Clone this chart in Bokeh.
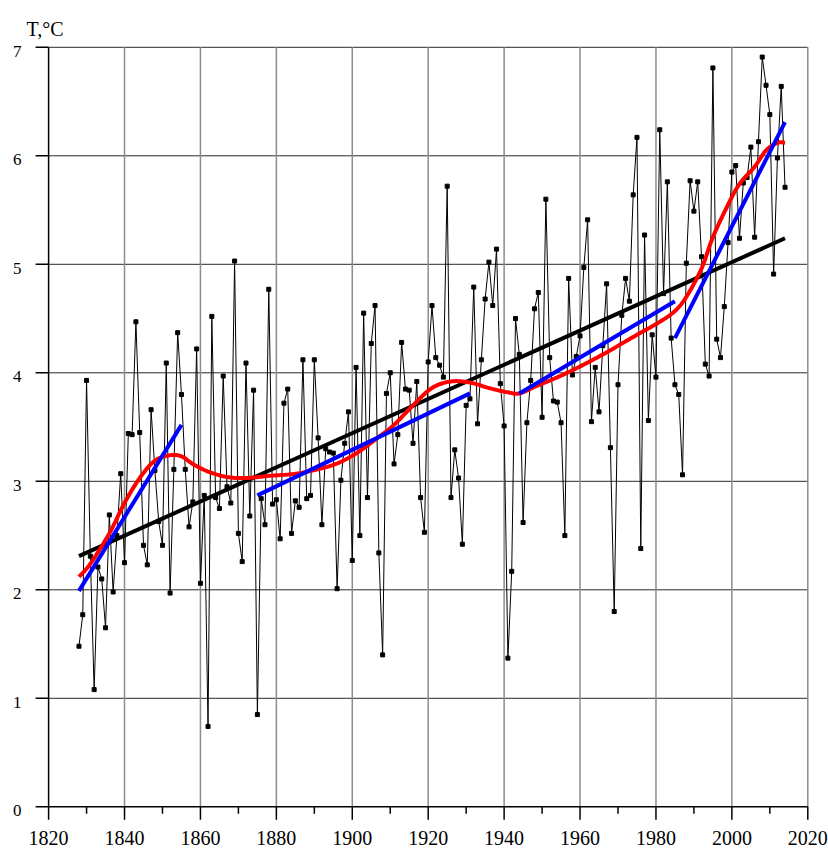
import numpy as np
from bokeh.plotting import figure
from bokeh.models import Range1d
from bokeh.core.properties import value
from bokeh.embed import file_html
from bokeh.resources import INLINE

# ---------------- data ----------------
years = list(range(1828, 2015))
temps = [
    1.48, 1.77,
    3.93, 2.31, 1.08, 2.21, 2.10, 1.65, 2.69, 1.98, 2.50, 3.07,   # 1830s
    2.25, 3.44, 3.43, 4.47, 3.45, 2.41, 2.23, 3.66, 3.10, 2.63,   # 1840s
    2.41, 4.09, 1.97, 3.11, 4.37, 3.80, 3.11, 2.58, 2.81, 4.22,   # 1850s
    2.06, 2.87, 0.74, 4.52, 2.85, 2.75, 3.97, 2.95, 2.80, 5.03,   # 1860s
    2.52, 2.26, 4.09, 2.68, 3.84, 0.85, 2.84, 2.60, 4.77, 2.79,   # 1870s
    2.83, 2.47, 3.72, 3.85, 2.52, 2.82, 2.76, 4.12, 2.84, 2.87,   # 1880s
    4.12, 3.40, 2.60, 3.30, 3.27, 3.26, 2.01, 3.01, 3.35, 3.64,   # 1890s
    2.27, 4.05, 2.50, 4.55, 2.85, 4.27, 4.62, 2.34, 1.40, 3.81,   # 1900s
    4.00, 3.16, 3.43, 4.28, 3.85, 3.84, 3.35, 3.92, 2.85, 2.53,   # 1910s
    4.10, 4.62, 4.14, 4.07, 3.96, 5.72, 2.85, 3.29, 3.03, 2.42,   # 1920s
    3.70, 3.76, 4.79, 3.53, 4.12, 4.68, 5.02, 4.62, 5.14, 3.90,   # 1930s
    3.51, 1.37, 2.17, 4.50, 4.17, 2.62, 3.54, 3.93, 4.59, 4.74,   # 1940s
    3.59, 5.60, 4.14, 3.74, 3.73, 3.54, 2.50, 4.87, 3.98, 4.15,   # 1950s
    4.34, 4.97, 5.41, 3.55, 4.05, 3.64, 4.25, 4.82, 3.31, 1.80,   # 1960s
    3.89, 4.53, 4.87, 4.66, 5.64, 6.17, 2.38, 5.27, 3.56, 4.35,   # 1970s
    3.96, 6.24, 4.73, 5.76, 4.32, 3.89, 3.80, 3.06, 5.01, 5.77,   # 1980s
    5.49, 5.76, 5.07, 4.08, 3.97, 6.81, 4.31, 4.14, 4.61, 5.20,   # 1990s
    5.85, 5.91, 5.24, 5.75, 5.80, 6.08, 5.25, 6.13, 6.91, 6.65,   # 2000s
    6.38, 4.91, 5.98, 6.64, 5.71,                                 # 2010s
]

# linear trend over the whole period (end points)
trend_years = [1828, 2014]
trend_vals = [2.31, 5.24]

# piecewise linear trends (blue)
seg_start_years = [1828, 1875, 1944, 1985]
seg_start_vals = [1.99, 2.87, 3.81, 4.32]
seg_end_years = [1855, 1931, 1985, 2014]
seg_end_vals = [3.52, 3.81, 4.66, 6.31]

# smoothed curve (red), nodes
smooth_years = [1828, 1831, 1836, 1840, 1844, 1848, 1852, 1855, 1858, 1862,
                1867, 1872, 1878, 1885, 1892, 1897, 1902, 1907, 1911, 1916,
                1921, 1926, 1931, 1936, 1941, 1944, 1948, 1956, 1965, 1974,
                1981, 1985, 1988, 1992, 1995, 1999, 2002, 2006, 2009, 2012, 2014]
smooth_vals = [2.12, 2.24, 2.52, 2.80, 3.03, 3.19, 3.24, 3.23, 3.16, 3.09,
               3.04, 3.03, 3.05, 3.07, 3.12, 3.18, 3.28, 3.41, 3.52, 3.70,
               3.86, 3.92, 3.91, 3.86, 3.82, 3.81, 3.87, 3.99, 4.15, 4.33,
               4.47, 4.57, 4.70, 4.96, 5.25, 5.55, 5.74, 5.90, 6.05, 6.12, 6.12]

x_ticks = [1820, 1840, 1860, 1880, 1900, 1920, 1940, 1960, 1980, 2000, 2020]
x_tick_labels = ["1820", "1840", "1860", "1880", "1900", "1920", "1940",
                 "1960", "1980", "2000", "2020"]
x_minor = [1830, 1850, 1870, 1890, 1910, 1930, 1950, 1970, 1990, 2010]
y_ticks = [0, 1, 2, 3, 4, 5, 6, 7]
y_tick_labels = ["0", "1", "2", "3", "4", "5", "6", "7"]
unit_label = "T,°C"


def catmull_rom(xs, ys, n=16):
    P = np.column_stack([xs, ys]).astype(float)
    P = np.vstack([P[0], P, P[-1]])
    out = []
    t = np.linspace(0, 1, n, endpoint=False)[:, None]
    for i in range(1, len(P) - 2):
        p0, p1, p2, p3 = P[i - 1], P[i], P[i + 1], P[i + 2]
        pts = 0.5 * (2 * p1 + (-p0 + p2) * t + (2 * p0 - 5 * p1 + 4 * p2 - p3) * t ** 2
                     + (-p0 + 3 * p1 - 3 * p2 + p3) * t ** 3)
        out.append(pts)
    out.append(P[-2][None, :])
    arr = np.vstack(out)
    return arr[:, 0], arr[:, 1]


FONT = "Liberation Serif"

# ---------------- layout (pixels) ----------------
W, H = 828, 852
PAD_L, PAD_R, PAD_T, PAD_B = 48.1, 20.7, 46.8, 45.7
x0, x1 = x_ticks[0], x_ticks[-1]
y0, y1 = y_ticks[0], y_ticks[-1]
ppx = (W - PAD_L - PAD_R) / (x1 - x0)
ppy = (H - PAD_T - PAD_B) / (y1 - y0)

p = figure(width=W, height=H, output_backend="svg", toolbar_location=None,
           x_range=Range1d(x0 - PAD_L / ppx, x1 + PAD_R / ppx),
           y_range=Range1d(y0 - PAD_B / ppy, y1 + PAD_T / ppy),
           x_axis_type=None, y_axis_type=None, min_border=0)
p.background_fill_color = "white"
p.border_fill_color = "white"
p.outline_line_color = None
p.grid.visible = False

# grid lines
p.segment(x0=[x0] * (len(y_ticks) - 1), y0=y_ticks[1:], x1=[x1] * (len(y_ticks) - 1),
          y1=y_ticks[1:], line_color="#2a2a2a", line_width=1)
p.segment(x0=x_ticks[1:], y0=[y0] * (len(x_ticks) - 1), x1=x_ticks[1:],
          y1=[y1] * (len(x_ticks) - 1), line_color="#8c8c8c", line_width=1.5)

# data series
p.line(years, temps, line_color="black", line_width=1)
p.scatter(years, temps, marker="square", size=4, color="black")

# trends
p.line(trend_years, trend_vals, line_color="black", line_width=4)
sx, sy = catmull_rom(smooth_years, smooth_vals)
p.line(sx, sy, line_color="#ff0000", line_width=4)
p.segment(x0=seg_start_years, y0=seg_start_vals, x1=seg_end_years, y1=seg_end_vals,
          line_color="#0000ff", line_width=4)

# axis lines
p.segment(x0=[x0, x0], y0=[y0, y0], x1=[x0, x1], y1=[y1, y0],
          line_color="black", line_width=1.5)
# ticks
p.ray(x=[x0] * len(y_ticks), y=y_ticks, length=13, length_units="screen",
      angle=np.pi, line_color="black", line_width=1.5)
p.ray(x=x_ticks, y=[y0] * len(x_ticks), length=13, length_units="screen",
      angle=-np.pi / 2, line_color="black", line_width=1.5)
p.ray(x=x_minor, y=[y0] * len(x_minor), length=7, length_units="screen",
      angle=-np.pi / 2, line_color="black", line_width=1.5)

# tick labels
p.text(x=x_ticks, y=[y0] * len(x_ticks), text=x_tick_labels, y_offset=31,
       text_align="center", text_baseline="alphabetic", text_font=value(FONT),
       text_font_size="20px", text_color="black")
p.text(x=[x0] * len(y_ticks), y=y_ticks, text=y_tick_labels, x_offset=-27, y_offset=4,
       text_align="right", text_baseline="alphabetic", text_font=value(FONT),
       text_font_size="17px", text_color="black")
# unit label
p.text(x=[x0], y=[y1], text=[unit_label], x_offset=-22, y_offset=-18,
       text_align="left", text_baseline="alphabetic", text_font=value(FONT),
       text_font_size="20px", text_color="black")

open("out.html", "w").write(file_html(p, INLINE))
